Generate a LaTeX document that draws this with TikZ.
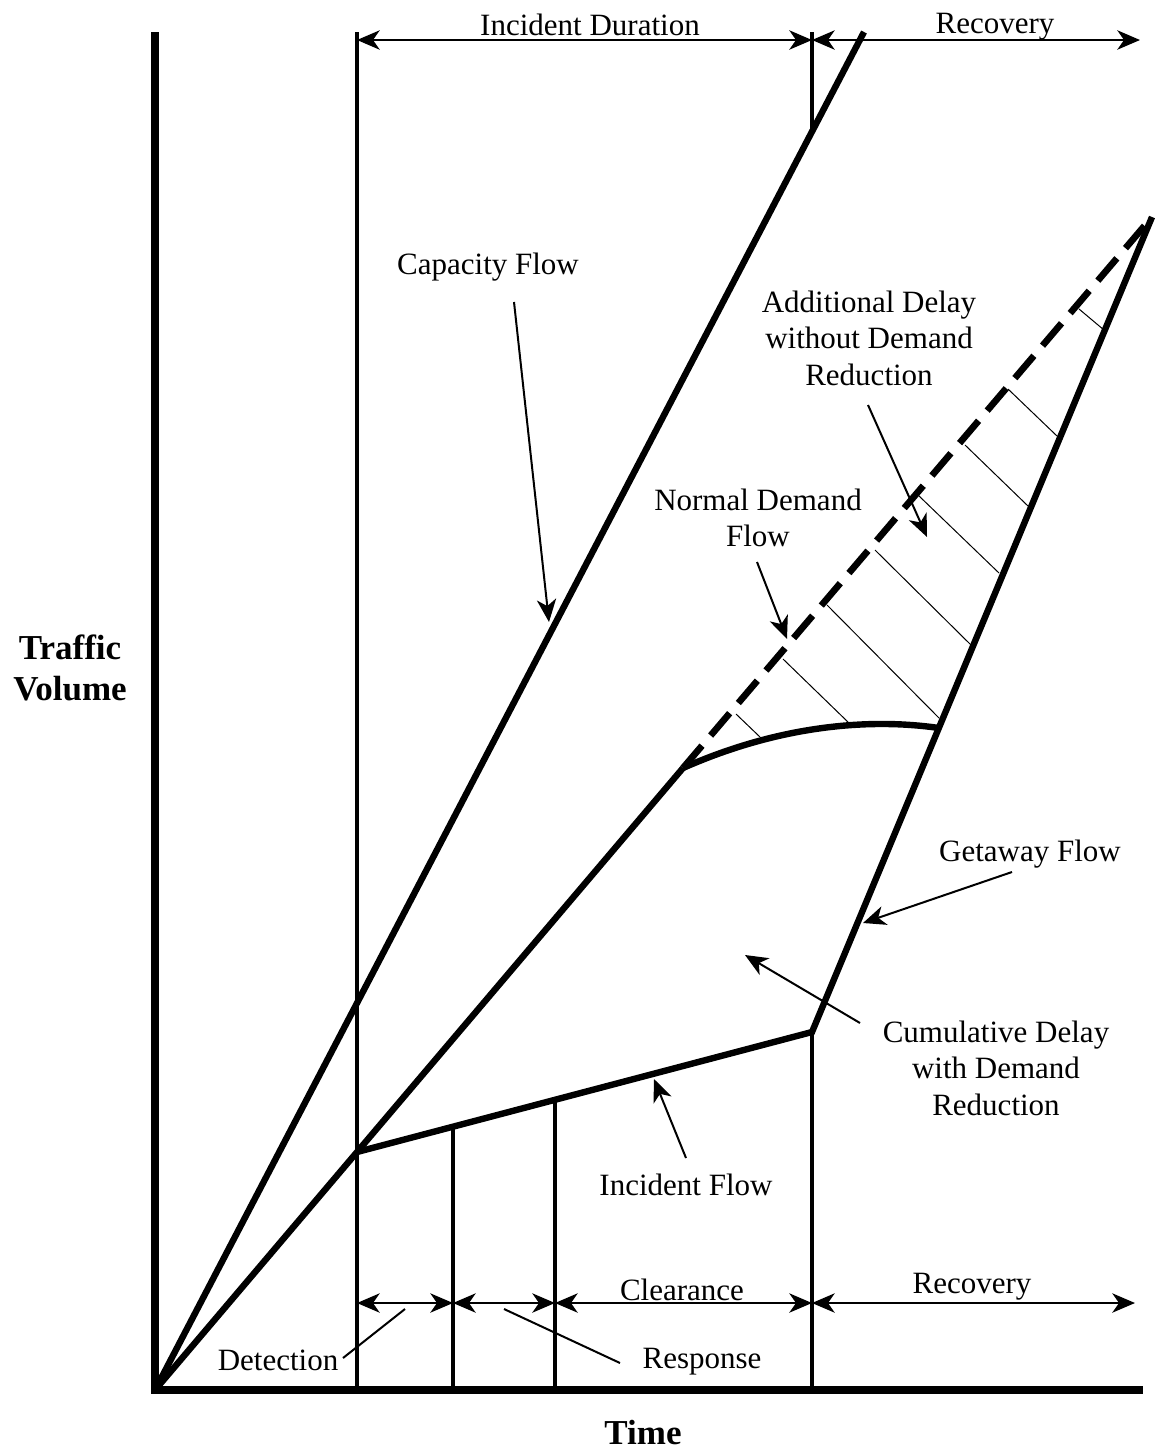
\documentclass[tikz,border=0pt]{standalone}
\usepackage{fontspec}
\setmainfont{Liberation Serif}
\usetikzlibrary{arrows.meta}
\begin{document}
\begin{tikzpicture}[x=0.75pt,y=-0.75pt,
  lbl/.style={font=\fontsize{23.25pt}{27.4pt}\selectfont, align=center, inner sep=0pt},
  blbl/.style={font=\fontsize{26.25pt}{31pt}\selectfont\bfseries, align=center, inner sep=0pt},
  axisline/.style={line width=5.5pt, line join=miter},
  flow/.style={line width=4.8pt, line join=miter},
  vline/.style={line width=3pt},
  tipshape/.tip={Stealth[length=17pt,width=14.5pt,inset=5pt]},
  ptr/.style={line width=1.5pt, -tipshape},
  dimarrow/.style={line width=1.6pt, tipshape-tipshape},
  leader/.style={line width=1.5pt},
  hatchline/.style={line width=0.75pt},
]
\useasboundingbox (0,0) rectangle (1155,1450);

% key coordinates
\coordinate (O) at (155,1390);
\coordinate (Ytop) at (155,32);
\coordinate (Xend) at (1143,1390);
\coordinate (Ctop) at (864,32);
\coordinate (J) at (357,1152);
\coordinate (G) at (812,1032);
\coordinate (N) at (683,768);
\coordinate (D) at (1152,217);
\coordinate (Cend) at (939,728);
\coordinate (V1t) at (357,32);
\coordinate (V1b) at (357,1390);
\coordinate (V2t) at (453,1127);
\coordinate (V2b) at (453,1390);
\coordinate (V3t) at (555,1100);
\coordinate (V3b) at (555,1390);
\coordinate (V4t) at (812,32);
\coordinate (V4c) at (812,132);
\coordinate (V4b) at (812,1390);

% hatch lines
\coordinate (h1a) at (1079,309); \coordinate (h1b) at (1104,330);
\coordinate (h2a) at (1008,389); \coordinate (h2b) at (1057,436);
\coordinate (h3a) at (965,445);  \coordinate (h3b) at (1028,506);
\coordinate (h4a) at (918,495);  \coordinate (h4b) at (999,573);
\coordinate (h5a) at (875,550);  \coordinate (h5b) at (971,645);
\coordinate (h6a) at (827,605);  \coordinate (h6b) at (939,718);
\coordinate (h7a) at (783,659);  \coordinate (h7b) at (849,723);
\coordinate (h8a) at (736,714);  \coordinate (h8b) at (760,737);
\foreach \i in {1,...,8}{\draw[hatchline] (h\i a) -- (h\i b);}

% vertical lines
\draw[vline] (V1t) -- (V1b);
\draw[vline] (V2t) -- (V2b);
\draw[vline] (V3t) -- (V3b);
\draw[vline] (V4t) -- (V4c);
\draw[vline] (G) -- (V4b);

% flows
\draw[flow] (O) -- (Ctop);
\draw[flow] (O) -- (N);
\draw[line width=5pt, dash pattern=on 22pt off 10pt] (N) -- (D);
\draw[flow] (J) -- (G) -- (D);
\draw[flow] (N) .. controls (780,725) and (870,718) .. (Cend);

% axes
\draw[axisline] (Ytop) -- (O) -- (Xend);

% dimension arrows
\coordinate (a1) at (357,40); \coordinate (a2) at (812,40); \coordinate (a3) at (1140,40);
\draw[dimarrow] (a1) -- (a2);
\draw[dimarrow] (a2) -- (a3);
\coordinate (b1) at (357,1303); \coordinate (b2) at (453,1303); \coordinate (b3) at (555,1303);
\coordinate (b4) at (812,1303); \coordinate (b5) at (1135,1303);
\draw[dimarrow] (b1) -- (b2);
\draw[dimarrow] (b2) -- (b3);
\draw[dimarrow] (b3) -- (b4);
\draw[dimarrow] (b4) -- (b5);

% labels
\node[lbl] (tIncDur) at (590,25) {Incident Duration};
\node[lbl] (tRecTop) at (995,27) {Recovery};
\node[lbl] (tCap) at (488,267) {Capacity Flow};
\node[lbl] (tAdd) at (869,338) {Additional Delay\\without Demand\\Reduction};
\node[lbl] (tNorm) at (758,518) {Normal Demand\\Flow};
\node[blbl] (tTraffic) at (70,668) {Traffic\\Volume};
\node[lbl] (tGet) at (1030,854) {Getaway Flow};
\node[lbl] (tCum) at (996,1068) {Cumulative Delay\\with Demand\\Reduction};
\node[lbl] (tInc) at (686,1185) {Incident Flow};
\node[lbl] (tClr) at (682,1290) {Clearance};
\node[lbl] (tRecBot) at (972,1287) {Recovery};
\node[lbl] (tDet) at (278,1360) {Detection};
\node[lbl] (tResp) at (702,1362) {Response};
\node[blbl] (tTime) at (643,1433) {Time};

% pointer arrows
\coordinate (capTail) at (514,302); \coordinate (capTip) at (549,622);
\draw[ptr] (capTail) -- (capTip);
\coordinate (addTail) at (868,405); \coordinate (addTip) at (927,537);
\draw[ptr] (addTail) -- (addTip);
\coordinate (normTail) at (757,562); \coordinate (normTip) at (787,639);
\draw[ptr] (normTail) -- (normTip);
\coordinate (getTail) at (1012,872); \coordinate (getTip) at (863,923);
\draw[ptr] (getTail) -- (getTip);
\coordinate (cumTail) at (860,1023); \coordinate (cumTip) at (745,955);
\draw[ptr] (cumTail) -- (cumTip);
\coordinate (incTail) at (686,1158); \coordinate (incTip) at (654,1079);
\draw[ptr] (incTail) -- (incTip);

% leaders
\coordinate (detA) at (343,1358); \coordinate (detB) at (405,1309);
\draw[leader] (detA) -- (detB);
\coordinate (respA) at (620,1363); \coordinate (respB) at (504,1309);
\draw[leader] (respA) -- (respB);
\end{tikzpicture}
\end{document}
